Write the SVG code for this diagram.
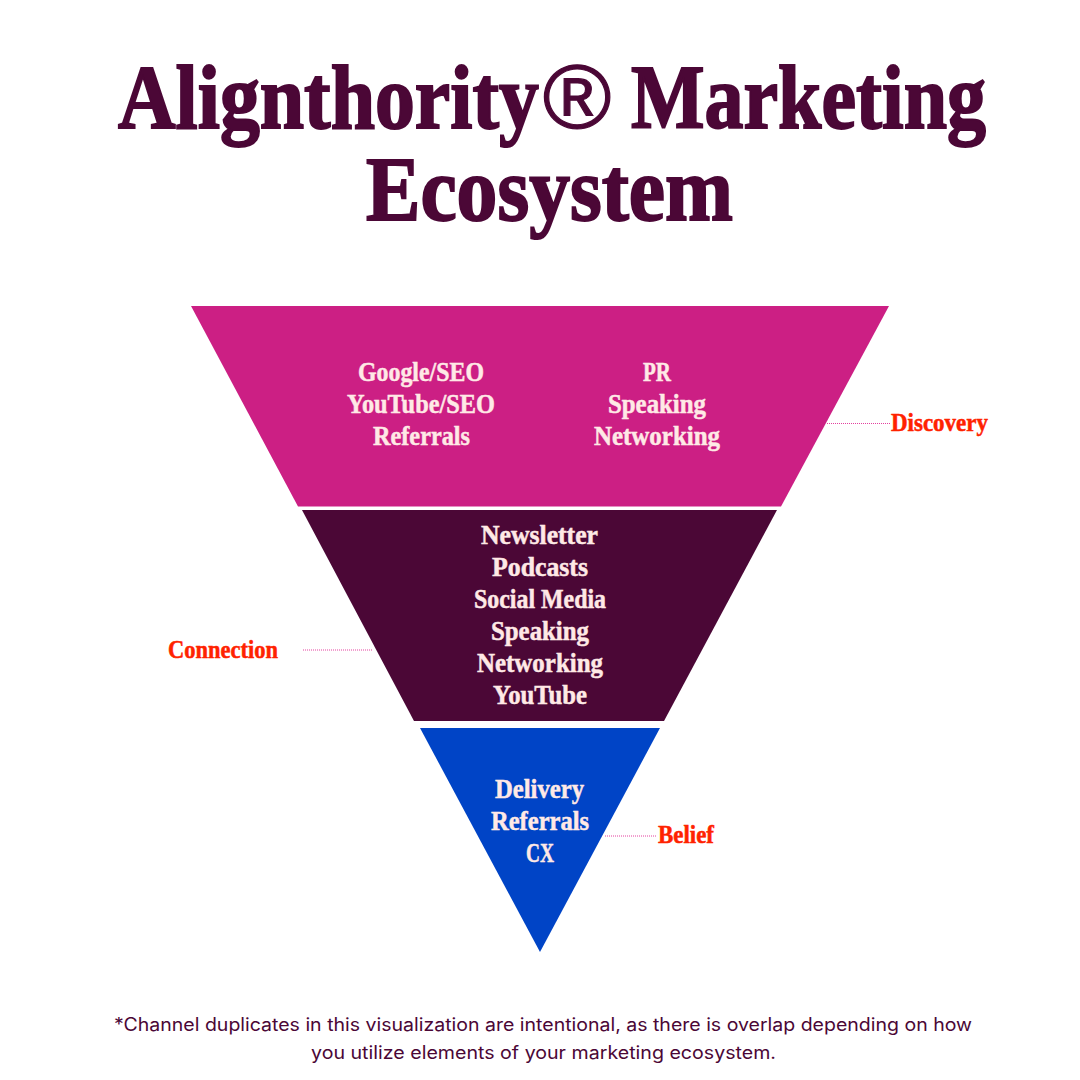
<svg xmlns="http://www.w3.org/2000/svg" width="1080" height="1080" viewBox="0 0 1080 1080">
<style>
text{text-anchor:start}
.d{font-family:"Liberation Serif","Times New Roman",serif;font-weight:700}
.t{font-size:90px;fill:#4b0736;stroke:#4b0736;stroke-width:2px}
.r{font-family:"Liberation Sans",Arial,sans-serif;font-weight:400;font-size:90px;fill:#4b0736;stroke:#4b0736;stroke-width:1.2px}
.i{font-size:27px;fill:#ffe9e6;stroke:#ffe9e6;stroke-width:.5px}
.l{font-size:25px;fill:#ff2200;stroke:#ff2200;stroke-width:.5px}
.f{font-family:Inter,"Noto Sans",sans-serif;font-size:18px;fill:#4b0736}
.c{stroke:#e4409f;stroke-width:1;stroke-dasharray:1 1;fill:none}
</style>
<rect width="1080" height="1080" fill="#ffffff"/>
<g id="title">
<text class="d t" transform="translate(118 128) scale(.886 1)" x="0" y="0">Alignthority</text>
<text class="r" transform="translate(543 128) scale(1.03 1)" x="0" y="0">®</text>
<text class="d t" transform="translate(631 128) scale(.866 1)" x="0" y="0">Marketing</text>
<text class="d t" x="366" y="220" textLength="367" lengthAdjust="spacingAndGlyphs">Ecosystem</text>
</g>
<g id="connectors">
<line class="c" x1="827" y1="423.5" x2="891" y2="423.5"/>
<line class="c" x1="303" y1="650" x2="373" y2="650"/>
<line class="c" x1="605" y1="836" x2="657" y2="836"/>
</g>
<g id="discovery">
<polygon points="191,306 889,306 781,506.500 298,506.500" fill="#cc1f84"/>
<text class="d i" x="358" y="381" textLength="126" lengthAdjust="spacingAndGlyphs">Google/SEO</text>
<text class="d i" x="347" y="413" textLength="148" lengthAdjust="spacingAndGlyphs">YouTube/SEO</text>
<text class="d i" x="373" y="445" textLength="97" lengthAdjust="spacingAndGlyphs">Referrals</text>
<text class="d i" x="643" y="381" textLength="28" lengthAdjust="spacingAndGlyphs">PR</text>
<text class="d i" x="608" y="413" textLength="98" lengthAdjust="spacingAndGlyphs">Speaking</text>
<text class="d i" x="594" y="445" textLength="126" lengthAdjust="spacingAndGlyphs">Networking</text>
<text class="d l" x="891" y="431" textLength="97" lengthAdjust="spacingAndGlyphs">Discovery</text>
</g>
<g id="connection">
<polygon points="302,510 777,510 664,721 414,721" fill="#4b0736"/>
<text class="d i" x="481" y="544" textLength="117" lengthAdjust="spacingAndGlyphs">Newsletter</text>
<text class="d i" x="492" y="576" textLength="96" lengthAdjust="spacingAndGlyphs">Podcasts</text>
<text class="d i" x="474" y="608" textLength="132" lengthAdjust="spacingAndGlyphs">Social Media</text>
<text class="d i" x="491" y="640" textLength="98" lengthAdjust="spacingAndGlyphs">Speaking</text>
<text class="d i" x="477" y="672" textLength="126" lengthAdjust="spacingAndGlyphs">Networking</text>
<text class="d i" x="493" y="704" textLength="94" lengthAdjust="spacingAndGlyphs">YouTube</text>
<text class="d l" x="168" y="658" textLength="110" lengthAdjust="spacingAndGlyphs">Connection</text>
</g>
<g id="belief">
<polygon points="420,728 660,728 540,952" fill="#0044c6"/>
<text class="d i" x="495" y="798" textLength="89" lengthAdjust="spacingAndGlyphs">Delivery</text>
<text class="d i" x="491" y="830" textLength="98" lengthAdjust="spacingAndGlyphs">Referrals</text>
<text class="d i" x="526" y="862" textLength="28" lengthAdjust="spacingAndGlyphs">CX</text>
<text class="d l" x="658" y="843" textLength="56" lengthAdjust="spacingAndGlyphs">Belief</text>
</g>
<g id="footnote">
<text class="f" x="114" y="1031" textLength="858" lengthAdjust="spacingAndGlyphs">*Channel duplicates in this visualization are intentional, as there is overlap depending on how</text>
<text class="f" x="311" y="1059" textLength="465" lengthAdjust="spacingAndGlyphs">you utilize elements of your marketing ecosystem.</text>
</g>
</svg>
